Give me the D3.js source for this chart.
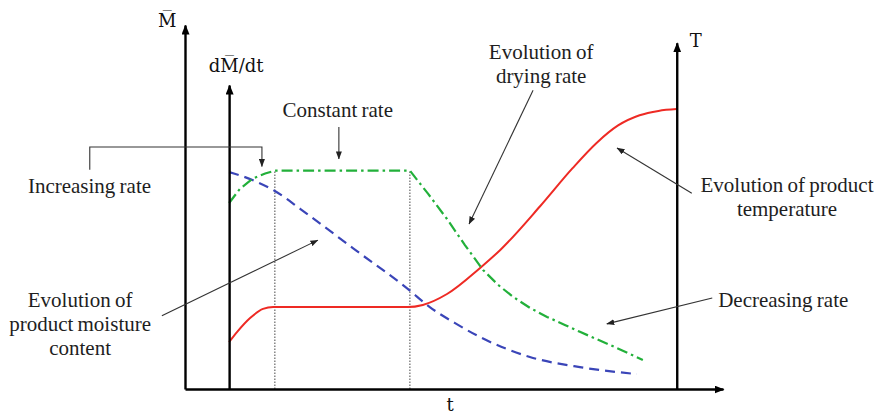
<!DOCTYPE html>
<html>
<head>
<meta charset="utf-8">
<script src="https://cdn.jsdelivr.net/npm/d3@7/dist/d3.min.js"></script>
<style>
  html, body { margin: 0; padding: 0; background: #fff; }
  svg { display: block; }
  .note { font-family: "Liberation Serif", "Times New Roman", serif; font-size: 21px; fill: #1e1e1e; word-spacing: -1px; }
  .axlab { font-family: "DejaVu Serif", "Liberation Serif", serif; font-size: 18px; fill: #111; }
</style>
</head>
<body>
<svg id="chart" width="878" height="417"></svg>
<script>
// Drying kinetics: moisture content, drying rate and product temperature vs time
// (time and values in relative units, 0-100)

// Drying rate dM/dt (green, dash-dot)
const rateT = [8.2, 10.2, 12.6, 14.9, 16.7, 41.8, 45.2, 48.7, 52.0, 55.4, 58.2, 61.0, 64.1, 67.3, 70.6, 73.4, 79.0, 85.1];
const rateV = [51.1, 55.0, 57.8, 59.2, 60.0, 60.0, 53.6, 46.7, 39.6, 32.7, 28.6, 25.3, 22.3, 19.8, 17.6, 15.7, 12.1, 8.0];

// Product moisture content M (blue, dashed)
const moistT = [8.2, 10.6, 13.0, 16.7, 21.4, 31.2, 41.4, 45.5, 50.2, 54.8, 64.1, 73.4, 84.0];
const moistV = [59.6, 58.5, 57.1, 54.4, 49.5, 38.7, 27.5, 22.5, 18.1, 14.3, 8.8, 6.0, 4.1];

// Product temperature T (red, solid)
const tempT = [8.2, 9.7, 12.1, 14.5, 16.4, 41.4, 44.2, 48.7, 54.8, 58.6, 66.0, 72.0, 76.5, 80.5, 84.5, 88.0, 91.4];
const tempV = [12.9, 15.7, 19.5, 22.0, 22.5, 22.5, 23.1, 26.1, 33.2, 38.2, 50.2, 60.6, 67.6, 72.4, 75.2, 76.4, 76.9];

// Boundaries of the constant-rate period
const phaseT = [16.7, 41.8];

// Axes: position on the time axis and height of each vertical axis
const axisNames = ["M\u0305", "dM\u0305/dt", "T"];
const axisT = [0, 8.2, 91.4];
const axisTop = [100, 83.5, 95.1];
const timeLabel = "t";

const svg = d3.select("#chart");
const x = d3.scaleLinear([0, 100], [185, 723]);
const y = d3.scaleLinear([0, 100], [389, 25]);

const defs = svg.append("defs");
defs.append("marker").attr("id", "axhead")
  .attr("viewBox", "0 0 10 8").attr("refX", 9).attr("refY", 4)
  .attr("markerWidth", 10).attr("markerHeight", 8)
  .attr("markerUnits", "userSpaceOnUse").attr("orient", "auto")
  .append("path").attr("d", "M0,0L10,4L0,8Z").attr("fill", "#000");
defs.append("marker").attr("id", "nhead")
  .attr("viewBox", "0 0 8 6").attr("refX", 7.5).attr("refY", 3)
  .attr("markerWidth", 8).attr("markerHeight", 6)
  .attr("markerUnits", "userSpaceOnUse").attr("orient", "auto")
  .append("path").attr("d", "M0,0L8,3L0,6Z").attr("fill", "#222");

// Phase separators (dotted)
svg.append("g").selectAll("line").data(phaseT).join("line")
  .attr("x1", d => x(d)).attr("x2", d => x(d))
  .attr("y1", y(0)).attr("y2", y(rateV[4]))
  .attr("stroke", "#666").attr("stroke-width", 1.2).attr("stroke-dasharray", "1.5,1.5");

// Curves
const zip = (ts, vs) => ts.map((t, i) => [t, vs[i]]);
const lineLin = d3.line().x(d => x(d[0])).y(d => y(d[1])).curve(d3.curveLinear);
const lineSmooth = d3.line().x(d => x(d[0])).y(d => y(d[1])).curve(d3.curveMonotoneX);

svg.append("path").datum(zip(tempT, tempV)).attr("d", lineSmooth)
  .attr("fill", "none").attr("stroke", "#ee2a24").attr("stroke-width", 2);
svg.append("path").datum(zip(moistT, moistV)).attr("d", lineSmooth)
  .attr("fill", "none").attr("stroke", "#3a45b8").attr("stroke-width", 2.2)
  .attr("stroke-dasharray", "10,6");
svg.append("path").datum(zip(rateT, rateV)).attr("d", lineLin)
  .attr("fill", "none").attr("stroke", "#22b03a").attr("stroke-width", 2.2)
  .attr("stroke-dasharray", "11,4,2.5,4");

// Time axis
const xAxis = d3.axisBottom(x).tickValues([]).tickSizeOuter(0);
const gx = svg.append("g").attr("transform", `translate(0,${y(0)})`).call(xAxis);
gx.select(".domain").attr("stroke", "#000").attr("stroke-width", 2.4).attr("marker-end", "url(#axhead)");
svg.append("text").attr("class", "axlab").attr("x", 450).attr("y", 411)
  .attr("text-anchor", "middle").text(timeLabel);

// Vertical axes
axisT.forEach((t, i) => {
  const ys = d3.scaleLinear([0, axisTop[i]], [y(0), y(axisTop[i])]);
  const g = svg.append("g").attr("transform", `translate(${x(t)},0)`)
    .call(d3.axisLeft(ys).tickValues([]).tickSizeOuter(0));
  g.select(".domain").attr("stroke", "#000").attr("stroke-width", 2.4).attr("marker-end", "url(#axhead)");
});
svg.append("text").attr("class", "axlab").attr("x", x(axisT[0]) - 27).attr("y", y(axisTop[0]) + 2).text(axisNames[0]);
svg.append("text").attr("class", "axlab").attr("x", x(axisT[1]) + 7).attr("y", y(axisTop[1]) - 13)
  .attr("text-anchor", "middle").text(axisNames[1]);
svg.append("text").attr("class", "axlab").attr("x", x(axisT[2]) + 13).attr("y", y(axisTop[2]) + 4).text(axisNames[2]);

// Annotations (positioned in chart units)
const notes = svg.append("g");
function note(lines, t, v, anchor, lh) {
  const txt = notes.append("text").attr("class", "note").attr("text-anchor", anchor)
    .attr("x", x(t)).attr("y", y(v));
  lines.forEach((s, i) => txt.append("tspan").attr("x", x(t)).attr("dy", i ? lh : 0).text(s));
}
function pointer(pts, head = true) {
  notes.append("path").attr("d", d3.line().x(d => x(d[0])).y(d => y(d[1]))(pts))
    .attr("fill", "none").attr("stroke", "#333").attr("stroke-width", 1.1)
    .attr("marker-end", head ? "url(#nhead)" : null);
}

note(["Increasing rate"], -29.2, 53.8, "start", 0);
pointer([[-17.7, 60.2], [-17.7, 66.5], [14.3, 66.5], [14.3, 61.1]]);

note(["Constant rate"], 28.4, 74.7, "middle", 0);
pointer([[28.6, 72.0], [28.6, 63.2]]);

note(["Evolution of", "drying rate"], 66.2, 90.7, "middle", 24);
pointer([[64.7, 82.1], [52.8, 45.3]]);

note(["Evolution of product", "temperature"], 111.9, 54.1, "middle", 24);
pointer([[94.2, 53.8], [80.3, 66.2]]);

note(["Decreasing rate"], 99.1, 22.5, "start", 0);
pointer([[98.0, 25.0], [78.4, 17.9]]);

note(["Evolution of", "product moisture", "content"], -19.5, 22.5, "middle", 24);
pointer([[-4.3, 20.1], [24.7, 40.9]]);
</script>
</body>
</html>
